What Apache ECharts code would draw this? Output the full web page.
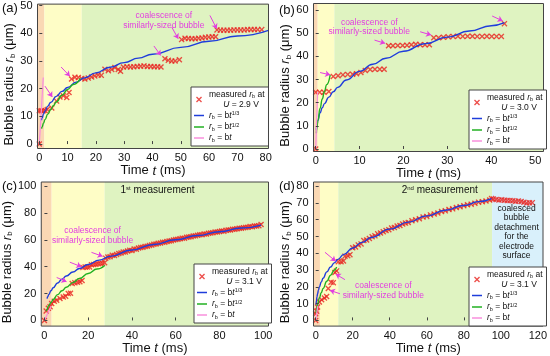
<!DOCTYPE html>
<html><head><meta charset="utf-8">
<script src="https://cdn.jsdelivr.net/npm/echarts@6/dist/echarts.min.js"></script>
<style>html,body{margin:0;padding:0;background:#fff}#c{width:550px;height:356px}</style>
</head><body><div id="c"></div>
<script>
// ---------- panel (a): U = 2.9 V ----------
const aMeasured = [[0,0],[0,12],[0.7,12],[1.4,12],[2.1,12],[2.8,12.5],[4.4,13],[6.1,15.5],[7.3,17],[8.5,17.4],[9.7,16.8],[10.5,18.6],[11.4,23.5],[12.6,24.1],[13.8,24],[15,23.7],[16.1,23.5],[17.3,23.8],[18.5,24.2],[19.6,24.6],[20.8,24.9],[21.9,24.8],[23.2,27],[24.4,26.5],[25.6,26.9],[26.7,27.6],[27.9,26.9],[28.7,26.3],[29.7,27.8],[31,27.9],[32.2,27.8],[33.4,27.9],[34.6,28],[35.8,28.1],[37,28.2],[38.2,28],[39.4,28],[40.6,27.9],[41.8,27.9],[43,27.8],[44.4,30.8],[45.6,30.2],[46.8,30],[48,30],[49.5,30.4],[50.3,37.7],[51.5,38.2],[52.7,38.1],[53.9,38],[55.1,38],[56.3,38.2],[57.5,38.3],[58.7,38.5],[59.9,38.6],[61.1,38.7],[62.3,38.7],[62.8,41.2],[64,41.1],[65.2,41.1],[66.4,41.1],[67.6,41.1],[68.8,41.2],[70,41.2],[71.2,41.2],[72.4,41.2],[73.6,41.3],[74.8,41.3],[76,41.3],[77.2,41.3],[78.6,41.3]];
const aCubeRoot = [[0.75,8.6],[1,9.5],[1.5,10.9],[2,11.9],[3,13.7],[4,15.0],[6,17.2],[8,19.0],[10,20.4],[13,22.3],[16,23.9],[20,25.7],[25,27.7],[30,29.4],[35,31.0],[40,32.4],[50,34.9],[60,37.1],[70,39.0],[81,41.0]];
const aSqrt = [[0.8,5.6],[1,6.2],[1.5,7.6],[2,8.8],[3,10.8],[4,12.4],[5,13.9],[6,15.2],[8,17.6],[10,19.7],[12,21.5],[14.5,23.7]];
const aLinear = [[0,0],[1.4,24]];
const aRegimes = [1.8, 15];
const aXTicks = [0,10,20,30,40,50,60,70,80];
const aYTicks = [0,10,20,30,40,50];
const aArrows = [[2.0,20.9,4.6,17.0],[7.7,27.8,10.8,24.5],[40.5,35.4,42.9,32],[46.8,42.2,49.1,38],[60.3,46.4,62.7,41.6]];

// ---------- panel (b): U = 3.0 V ----------
const bMeasured = [[0,0],[0,24.5],[0.9,24.5],[1.9,24.5],[3,24.8],[4,31.3],[5.1,31.6],[6.2,32],[7.3,32.2],[8.4,32.3],[9.3,32.5],[10.3,33],[11.3,33.9],[12.4,34.3],[13.5,34.4],[14.6,34.4],[15.6,34.4],[16.6,44.6],[17.6,44.6],[18.7,44.7],[19.8,44.7],[20.8,44.8],[21.8,45],[22.8,45.2],[23.8,45],[24.9,45],[25.9,45],[26.9,48],[28,48],[29.1,48.2],[30.2,48.4],[31.3,48.6],[32.4,48.7],[33.5,48.6],[34.6,48.7],[35.7,48.7],[36.8,48.6],[37.9,48.6],[39,48.7],[40.1,48.6],[41.2,48.6],[42.3,48.6],[43,54.1]];
const bCubeRoot = [[0.15,8.3],[0.3,10.4],[0.5,12.3],[1,15.6],[1.5,17.8],[2,19.6],[3,22.4],[4,24.7],[5,26.6],[7,29.8],[10,33.5],[13,36.6],[16,39.2],[20,42.2],[25,45.5],[30,48.3],[35,50.9],[40,53.2],[43,54.5]];
const bSqrt = [[0.15,6.8],[0.3,9.6],[0.5,12.4],[1,17.6],[1.5,21.6],[2,24.9],[2.5,27.8],[3.3,32.0]];
const bLinear = [[0,0],[0.45,24.5]];
const bRegimes = [0.45, 4.25];
const bXTicks = [0,10,20,30,40,50];
const bYTicks = [0,10,20,30,40,50,60];
const bArrows = [[1.0,33,3.3,32],[13.4,47,15.8,45.6],[23.8,50.6,26.3,49.2],[40.2,57.4,42.6,55.3]];

// ---------- panel (c): U = 3.1 V, 1st measurement ----------
const cMeasured = [[0,0],[0.8,7],[1.8,9],[2.6,10.2],[3.3,12.6],[4.5,14.3],[5.6,15],[7.1,16.3],[8.6,17.5],[9.7,18],[10.9,20],[11.9,20.2],[12.7,27.5],[13.9,28],[15.1,28.4],[16.2,28.8],[17.2,29.8],[17.6,39.5],[18.6,39.8],[19.6,39.8],[20.6,39.9],[21.5,41.5],[22.5,41.7],[23.5,41.9],[24.5,42.3],[25.5,42.5],[26.5,42.6],[27.5,43],
[28,46.4],[29,47.2],[30,47.4],[31,48.5],[32,48.4],[33,49.2],[34,49.9],[35,50.2],[36,50.9],[37,51.0],[38,51.7],[39,52.3],[40,52.1],[41,53.2],[42,53.1],[43,53.9],[44,54.3],[45,54.5],[46,55.1],[47,55.3],[48,55.9],[49,56.1],[50,56.7],[51,56.9],[52,57.4],[53,57.6],[54,58.2],[55,58.3],[56,58.8],[57,59.1],[58,59.3],[59,59.9],[60,60.2],[61,60.4],[62,60.9],[63,61.3],[64,61.3],[65,61.9],[66,62.2],[67,62.3],[68,62.9],[69,63.0],[70,63.4],[71,63.8],[72,63.9],[73,64.4],[74,64.3],[75,64.9],[76,65.2],[77,65.3],[78,65.8],[79,65.9],[80,66.2],[81,66.6],[82,66.5],[83,67.1],[84,67.3],[85,67.4],[86,67.9],[87,68.0],[88,68.2],[89,68.7],[90,68.6],[91,69.1],[92,69.3],[93,69.4],[94,69.9],[95,69.8],[96,70.3],[97,70.4],[98,70.6],[99,71.4]];
const cCubeRoot = [[1.2,16.3],[1.5,17.6],[2,19.3],[3,22.1],[4,24.4],[6,27.9],[8,30.7],[10,33.1],[13,36.1],[16,38.7],[20,41.7],[25,44.9],[30,47.7],[40,52.5],[50,56.6],[60,60.1],[70,63.3],[80,66.1],[90,68.8],[99,71.0]];
const cSqrt = [[0.8,7.0],[1,7.8],[2,11.1],[3,13.5],[4,15.6],[6,19.2],[8,22.1],[10,24.7],[13,28.2],[16,31.3],[20,35.0],[24,38.3],[27.5,41.0]];
const cLinear = [[0,0],[3,10.5]];
const cRegimes = [3.3, 27.5];
const cXTicks = [0,20,40,60,80,100];
const cYTicks = [0,20,40,60,80,100];
const cArrows = [[5.6,32,10.1,28.9],[11.6,43.4,16.9,40],[21.5,50.7,26.6,47.8]];

// ---------- panel (d): U = 3.1 V, 2nd measurement ----------
const dMeasured = [[0,0],[0,4],[0.5,5.5],[1,8],[2,11],[3.2,12.3],[4.7,13.4],[5.9,14.2],[6.8,19],[8.3,22.7],[9.5,22.5],[10.4,28.6],[11.3,29.5],[12.2,35],[13.7,35],[15,35.4],[15.8,38.3],[17.3,38.6],[18.5,39.2],
[20,43.3],[21.5,43.8],[23,45.0],[24.5,45.6],[26,47.6],[27.5,47.9],[29,48.8],[30.5,49.9],[32,50.4],[33.5,51.6],[35,52.1],[36.5,52.8],[38,53.6],[39.5,54.0],[41,55.1],[42.5,55.4],[44,56.2],[45.5,56.6],[47,57.5],[48.5,58.0],[50,58.4],[52,59.4],[54,60.0],[56,60.6],[58,61.6],[60,62.0],[62,62.9],[64,63.4],[66,64.0],[68,64.9],[70,65.3],[72,66.1],[74,66.5],[76,67.3],[78,67.7],[80,68.4],[82,68.9],[84,69.3],[86,69.8],[88,70.5],[90,70.8],[92,71.2],[94,71.8],[95,72.6],
[96,72.3],[97.5,72.1],[99,71.8],[100.5,71.9],[102,71.6],[103.5,71.5],[105,71.4],[106.5,71.3],[108,71.0],[109.5,71.1],[111,70.9],[112.5,70.4],[114,70.0],[115.5,70.1],[117,70.2]];
const dCubeRoot = [[0.2,9.3],[0.4,11.7],[0.7,14.1],[1,15.9],[1.5,18.2],[2,20.0],[3,22.9],[4,25.2],[6,28.9],[8,31.8],[10,34.3],[12,36.4],[15,39.2],[20,43.2],[25,46.5],[30,49.4],[40,54.4],[50,58.6],[60,62.3],[70,65.7],[80,68.5],[88,70.8],[95,72.6]];
const dSqrt = [[0.2,4.2],[0.5,6.7],[1,9.5],[2,13.4],[3,16.5],[4,19.0],[6,23.3],[8,26.9],[10,30.0],[11.3,31.9]];
const dLinear = [[0,0],[1.1,8.5]];
const dRegimes = [2.3, 12.2, 95.3];
const dXTicks = [0,20,40,60,80,100,120];
const dYTicks = [0,10,20,30,40,50,60,70,80];
const dArrows = [[5,40.6,10.8,35.3],[15.8,24.3,10.8,27.6],[13.1,15.9,7.7,17.9]];

// ---------- styling / layout ----------
const FONT = '"Liberation Sans", Arial, sans-serif';
const RED = '#e8231f', BLUE = '#1f3ddb', GREEN = '#22b022', PINK = '#f88fdc', MAG = '#e23ee0';
const BAND = {orange:'#fad8b4', yellow:'#fefdc6', green:'#dff3c1', blue:'#d9f0fb'};
const XPATH = 'path://M0,1.6L1.6,0L5,3.4L8.4,0L10,1.6L6.6,5L10,8.4L8.4,10L5,6.6L1.6,10L0,8.4L3.4,5Z';
const LINE_ICON = 'path://M0,0H10V1.5H0Z';
const RICH = {
  t:{fontSize:8.5, lineHeight:10, fontFamily:FONT, color:'#111'},
  i:{fontSize:8.5, lineHeight:10, fontStyle:'italic', fontFamily:FONT, color:'#111'},
  s:{fontSize:5.5, lineHeight:7, verticalAlign:'bottom', fontFamily:FONT, color:'#111'},
  p:{fontSize:5.5, lineHeight:7, verticalAlign:'top', fontFamily:FONT, color:'#111'}
};
const NAME_RICH = {
  n:{fontSize:13, fontFamily:FONT, color:'#111'},
  i:{fontSize:13, fontStyle:'italic', fontFamily:FONT, color:'#111'},
  s:{fontSize:8, fontFamily:FONT, color:'#111', verticalAlign:'bottom', lineHeight:10}
};

const panels = [
  {id:'a', volt:'2.9', grid:{left:37.5, top:3.5, width:231, height:145}, x:[-0.64,81.0], y:[-1.6,50.5],
   meas:aMeasured, cube:aCubeRoot, sqrt:aSqrt, lin:aLinear, regimes:aRegimes, bands:['orange','yellow','green'],
   xt:aXTicks, yt:aYTicks, arrows:aArrows, legend:[191,87], tag:[2,2],
   texts:[{c:[44,44.5], t:'coalescence of\nsimilarly-sized bubble', color:MAG, size:8.5}]},
  {id:'b', volt:'3.0', grid:{left:313.5, top:3.5, width:230, height:148}, x:[-0.5,51.9], y:[-1.08,62.8],
   meas:bMeasured, cube:bCubeRoot, sqrt:bSqrt, lin:bLinear, regimes:bRegimes, bands:['orange','yellow','green'],
   xt:bXTicks, yt:bYTicks, arrows:bArrows, legend:[469,90], tag:[279,4],
   texts:[{c:[12.2,52.6], t:'coalescence of\nsimilarly-sized bubble', color:MAG, size:8.5}]},
  {id:'c', volt:'3.1', grid:{left:39.5, top:182, width:229, height:147.5}, x:[-1.45,102.4], y:[-4.2,103.1],
   meas:cMeasured, cube:cCubeRoot, sqrt:cSqrt, lin:cLinear, regimes:cRegimes, bands:['orange','yellow','green'],
   xt:cXTicks, yt:cYTicks, arrows:cArrows, legend:[194,264], tag:[2,180],
   texts:[{c:[22,63.3], t:'coalescence of\nsimilarly-sized bubble', color:MAG, size:8.5},
          {c:[51.7,96.8], t:'{m|1}{u|st}{m| measurement}', color:'#111', size:10}]},
  {id:'d', volt:'3.1', grid:{left:313.5, top:182, width:230, height:147.5}, x:[-1.19,122.8], y:[-3.4,82.5],
   meas:dMeasured, cube:dCubeRoot, sqrt:dSqrt, lin:dLinear, regimes:dRegimes, bands:['orange','yellow','green','blue'],
   xt:dXTicks, yt:dYTicks, arrows:dArrows, legend:[469,267], tag:[279,180],
   texts:[{c:[36.5,17.6], t:'coalescence of\nsimilarly-sized bubble', color:MAG, size:8.5},
          {c:[67,77.5], t:'{m|2}{u|nd}{m| measurement}', color:'#111', size:10},
          {c:[108.5,52.5], t:'coalesced\nbubble\ndetachment\nfor the\nelectrode\nsurface', color:'#111', size:8.5}]}
];

const grids = [], xAxes = [], yAxes = [], series = [], legends = [], graphics = [];
const legendText = {};
panels.forEach((p, i) => {
  grids.push(Object.assign({show:true, borderColor:'#444', borderWidth:1, backgroundColor:'transparent', z:10, containLabel:false}, p.grid));
  xAxes.push({gridIndex:i, type:'value', min:p.x[0], max:p.x[1],
    axisLine:{show:false}, splitLine:{show:false},
    axisTick:{show:true, inside:true, length:3, customValues:p.xt, lineStyle:{color:'#444'}},
    axisLabel:{customValues:p.xt, fontSize:11, color:'#111', fontFamily:FONT, margin:4},
    name:'{n|Time }{i|t}{n| (ms)}', nameLocation:'middle', nameGap:13,
    nameTextStyle:{rich:NAME_RICH}, z:11});
  yAxes.push({gridIndex:i, type:'value', min:p.y[0], max:p.y[1],
    axisLine:{show:false}, splitLine:{show:false},
    axisTick:{show:true, inside:true, length:3, customValues:p.yt, lineStyle:{color:'#444'}},
    axisLabel:{customValues:p.yt, fontSize:11, color:'#111', fontFamily:FONT, margin:5},
    name:'{n|Bubble radius }{i|r}{s|b}{n| (μm)}', nameLocation:'middle', nameGap:13, nameRotate:90,
    nameTextStyle:{rich:NAME_RICH, padding:[0,16,0,0]}, z:11});

  const edges = [p.x[0]].concat(p.regimes, [p.x[1]]);
  const areas = p.bands.map((b, k) => [{xAxis:edges[k], itemStyle:{color:BAND[b], opacity:1}}, {xAxis:edges[k+1]}]);
  series.push({name:p.id+'_bands', type:'line', xAxisIndex:i, yAxisIndex:i, data:[[p.x[0], p.y[0]]],
    symbol:'none', lineStyle:{width:0}, silent:true, z:1, markArea:{silent:true, data:areas}});
  series.push({name:p.id+'_meas', type:'scatter', xAxisIndex:i, yAxisIndex:i, data:p.meas,
    symbol:XPATH, symbolSize:6, itemStyle:{color:RED}, silent:true, z:3});
  series.push({name:p.id+'_cube', type:'line', xAxisIndex:i, yAxisIndex:i, data:p.cube, smooth:true, smoothMonotone:'x',
    symbol:'none', lineStyle:{color:BLUE, width:1.4}, itemStyle:{color:BLUE}, silent:true, z:4});
  series.push({name:p.id+'_sqrt', type:'line', xAxisIndex:i, yAxisIndex:i, data:p.sqrt, smooth:true, smoothMonotone:'x',
    symbol:'none', lineStyle:{color:GREEN, width:1.4}, itemStyle:{color:GREEN}, silent:true, z:4});
  series.push({name:p.id+'_lin', type:'line', xAxisIndex:i, yAxisIndex:i, data:p.lin,
    symbol:'none', lineStyle:{color:PINK, width:1.2}, itemStyle:{color:PINK}, silent:true, z:4});
  series.push({name:p.id+'_notes', type:'line', xAxisIndex:i, yAxisIndex:i, data:[[p.x[0], p.y[0]]],
    symbol:'none', lineStyle:{width:0}, silent:true, z:6,
    markLine:{silent:true, symbol:['none','arrow'], symbolSize:5, label:{show:false},
      lineStyle:{color:MAG, width:1, type:'solid'}, emphasis:{disabled:true},
      data:p.arrows.map(a => [{coord:[a[0],a[1]]},{coord:[a[2],a[3]]}])},
    markPoint:{silent:true, symbol:'rect', symbolSize:1, itemStyle:{color:'transparent'},
      data:p.texts.map(tx => ({coord:tx.c, value:0,
        label:{show:true, position:'inside', formatter:tx.t, color:tx.color, fontSize:tx.size, lineHeight:tx.size+1,
          fontFamily:FONT, fontWeight:'normal', align:'center',
          rich:{m:{fontSize:tx.size, color:tx.color, fontFamily:FONT, fontWeight:'normal'},
                u:{fontSize:6, color:tx.color, fontFamily:FONT, fontWeight:'normal', verticalAlign:'top', lineHeight:8}}}}))}});

  legendText[p.id+'_meas'] = '{t|measured }{i|r}{s|b}{t| at}\n{t|      }{i|U}{t| = '+p.volt+' V}';
  legendText[p.id+'_cube'] = '{i|r}{s|b}{t| = b}{i|t}{p|1/3}';
  legendText[p.id+'_sqrt'] = '{i|r}{s|b}{t| = b}{i|t}{p|1/2}';
  legendText[p.id+'_lin'] = '{i|r}{s|b}{t| = b}{i|t}';
  legends.push({left:p.legend[0], top:p.legend[1], orient:'vertical', selectedMode:false,
    data:[{name:p.id+'_meas', icon:XPATH}, {name:p.id+'_cube', icon:LINE_ICON}, {name:p.id+'_sqrt', icon:LINE_ICON}, {name:p.id+'_lin', icon:LINE_ICON}],
    formatter: n => legendText[n],
    backgroundColor:'#fff', borderColor:'#444', borderWidth:1, borderRadius:0, padding:[3,4,3,3],
    itemWidth:10, itemHeight:6, itemGap:1.5, itemTextGap:2, z:20,
    textStyle:{fontSize:8.5, fontFamily:FONT, color:'#111', rich:RICH}});
  graphics.push({type:'text', left:p.tag[0], top:p.tag[1], z:30,
    style:{text:'('+p.id+')', fontSize:13, fontFamily:FONT, fill:'#111'}});
});

const chart = echarts.init(document.getElementById('c'), null, {renderer:'canvas'});
chart.setOption({animation:false, backgroundColor:'#fff', grid:grids, xAxis:xAxes, yAxis:yAxes,
  series:series, legend:legends, graphic:graphics, tooltip:{show:false}});
</script></body></html>
